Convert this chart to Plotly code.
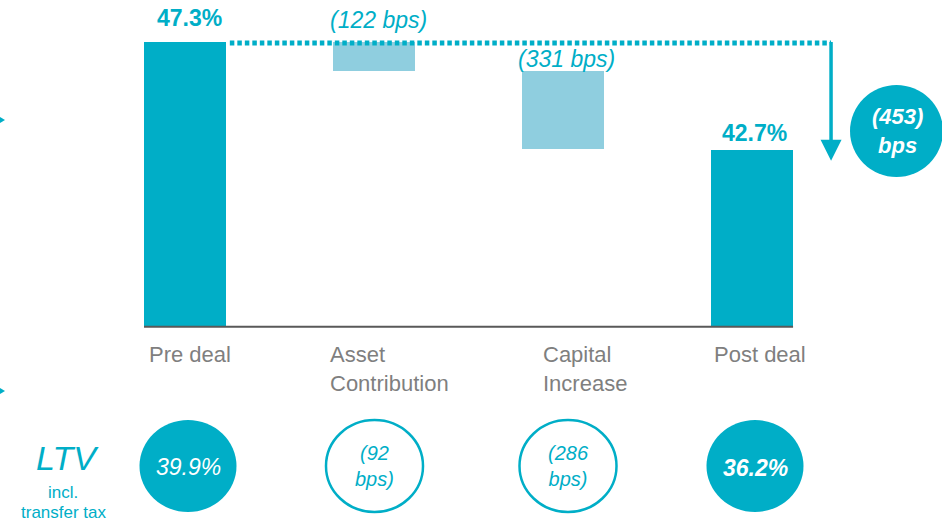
import plotly.graph_objects as go

# ---- data -------------------------------------------------------------
CATEGORIES = ["Pre deal", "Asset Contribution", "Capital Increase", "Post deal"]
CATEGORY_LABELS = ["Pre deal", "Asset<br>Contribution", "Capital<br>Increase", "Post deal"]
PRE_DEAL = 47.3          # %
ASSET_CONTRIB_BPS = 122  # reduction, bps
CAPITAL_INC_BPS = 331    # reduction, bps
POST_DEAL = 42.7         # %
TOTAL_BPS = 453
AXIS_FLOOR = 35.2        # truncated value axis starts here

LTV_PRE = "39.9%"
LTV_STEPS = ["(92<br>bps)", "(286<br>bps)"]
LTV_POST = "36.2%"

# ---- styling ----------------------------------------------------------
W, H = 942, 523
TEAL = "#00AEC7"
LIGHT = "#8FCEDF"
GREY = "#7F7F7F"
AXIS = "#595959"
FONT = "Liberation Sans, Arial, sans-serif"

def px(x):
    return x / W

def py(y):
    return 1 - y / H

# waterfall geometry
asset_h = ASSET_CONTRIB_BPS / 100
cap_h = CAPITAL_INC_BPS / 100
asset_top = PRE_DEAL
cap_top = asset_top - asset_h

bases = [AXIS_FLOOR, asset_top - asset_h, cap_top - cap_h, AXIS_FLOOR]
heights = [PRE_DEAL - AXIS_FLOOR, asset_h, cap_h, POST_DEAL - AXIS_FLOOR]
tops = [b + h for b, h in zip(bases, heights)]
colors = [TEAL, LIGHT, LIGHT, TEAL]
BAR_W = 0.434

fig = go.Figure()
fig.add_trace(go.Bar(
    x=CATEGORIES, y=heights, base=bases, width=BAR_W,
    marker=dict(color=colors, line=dict(width=0)),
    hoverinfo="skip", showlegend=False,
))

annotations = []
shapes = []


def paper_text(x, y, text, size, color):
    annotations.append(dict(
        x=px(x), y=py(y), xref="paper", yref="paper", text=text,
        showarrow=False, xanchor="center", yanchor="middle",
        font=dict(family=FONT, size=size, color=color),
    ))


# value labels above the bars
top_labels = [
    (f"<b>{PRE_DEAL:.1f}%</b>", 24, 4, 23),
    (f"<i>({ASSET_CONTRIB_BPS} bps)</i>", 22, 4, 23),
    (f"<i>({CAPITAL_INC_BPS} bps)</i>", 12, 3, 23),
    (f"<b>{POST_DEAL:.1f}%</b>", 17, 2, 23),
]
for i, (txt, ys, xs, sz) in enumerate(top_labels):
    annotations.append(dict(
        x=CATEGORIES[i], y=tops[i], text=txt, showarrow=False,
        xanchor="center", yanchor="middle", yshift=ys, xshift=xs,
        font=dict(family=FONT, size=sz, color=TEAL),
    ))

# category labels under the baseline
label_shift = [-38, -46, -22, -40]
for i, lab in enumerate(CATEGORY_LABELS):
    annotations.append(dict(
        x=CATEGORIES[i], y=py(340), yref="paper", text=lab, showarrow=False,
        xanchor="left", yanchor="top", align="left", xshift=label_shift[i],
        font=dict(family=FONT, size=22, color=GREY),
    ))

# baseline
shapes.append(dict(type="line", xref="x", yref="y",
                   x0=-BAR_W / 2, x1=3 + BAR_W / 2, y0=AXIS_FLOOR, y1=AXIS_FLOOR,
                   line=dict(color=AXIS, width=2)))

# dotted bridge from pre-deal level and the downward arrow
ARROW_X = 3.418
shapes.append(dict(type="line", xref="x", yref="y",
                   x0=BAR_W / 2 + 0.02, x1=ARROW_X, y0=PRE_DEAL - 0.05, y1=PRE_DEAL - 0.05,
                   line=dict(color=TEAL, width=5, dash="4.5px,3px")))
annotations.append(dict(
    x=ARROW_X, y=POST_DEAL - 0.45, ax=ARROW_X, ay=PRE_DEAL + 0.06,
    xref="x", yref="y", axref="x", ayref="y", text="", showarrow=True,
    arrowhead=2, arrowsize=1.2, arrowwidth=3.5, arrowcolor=TEAL, standoff=0,
))

# total change bubble
shapes.append(dict(type="circle", xref="paper", yref="paper",
                   x0=px(850), x1=px(943), y0=py(177), y1=py(85),
                   fillcolor=TEAL, line=dict(width=0)))
paper_text(897, 131, f"<b><i>({TOTAL_BPS})<br>bps</i></b>", 22, "white")

# LTV row
centres = [188, 374.5, 568, 755]
cy = 466
for i, cx in enumerate(centres):
    filled = i in (0, 3)
    shapes.append(dict(type="circle", xref="paper", yref="paper",
                       x0=px(cx - 48.5), x1=px(cx + 48.5), y0=py(cy + 46), y1=py(cy - 46),
                       fillcolor=TEAL if filled else "white",
                       line=dict(color=TEAL, width=0 if filled else 2.5)))

paper_text(centres[0], 467, f"<i>{LTV_PRE}</i>", 23, "white")
for cx, txt in zip(centres[1:3], LTV_STEPS):
    paper_text(cx, 466, f"<i>{txt}</i>", 20, TEAL)
paper_text(centres[3], 468, f"<b><i>{LTV_POST}</i></b>", 23, "white")

paper_text(67, 458, "<i>LTV</i>", 34, TEAL)
paper_text(63, 492, "incl.", 17, TEAL)
paper_text(64, 512, "transfer tax", 17, TEAL)

# small pointers on the left edge
for yc in (120, 391):
    shapes.append(dict(type="path", xref="paper", yref="paper",
                       path=f"M {px(-1)},{py(yc - 3.5)} L {px(5)},{py(yc)} L {px(-1)},{py(yc + 3.5)} Z",
                       fillcolor=TEAL, line=dict(width=0)))

fig.update_layout(
    width=W, height=H,
    margin=dict(l=0, r=0, t=0, b=0),
    paper_bgcolor="white", plot_bgcolor="white",
    xaxis=dict(range=[-0.979, 4.005], showgrid=False, zeroline=False,
               showticklabels=False, showline=False, ticks="", fixedrange=True),
    yaxis=dict(range=[26.87, 49.08], showgrid=False, zeroline=False,
               showticklabels=False, showline=False, ticks="", fixedrange=True),
    shapes=shapes, annotations=annotations,
    bargap=0,
)

fig.write_html("out.html")
